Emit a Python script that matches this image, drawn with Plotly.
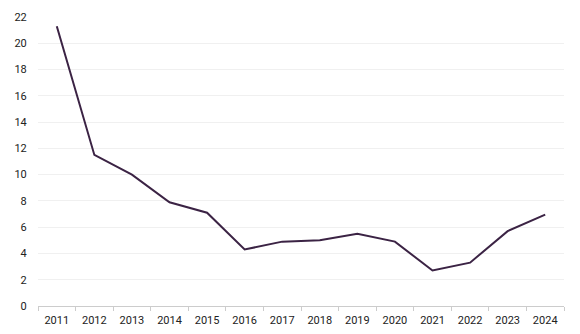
import plotly.graph_objects as go

years = ["2011", "2012", "2013", "2014", "2015", "2016", "2017",
         "2018", "2019", "2020", "2021", "2022", "2023", "2024"]
values = [21.3, 11.5, 10.0, 7.9, 7.1, 4.3, 4.9, 5.0, 5.5, 4.9, 2.7, 3.3, 5.7, 6.95]
y_ticks = [0, 2, 4, 6, 8, 10, 12, 14, 16, 18, 20, 22]

fig = go.Figure(go.Scatter(
    x=years, y=values, mode="lines",
    line=dict(color="#3b2344", width=2),
    hoverinfo="x+y",
))

fig.update_layout(
    width=580, height=334,
    margin=dict(l=38, r=16, t=17, b=28),
    paper_bgcolor="white", plot_bgcolor="white",
    font=dict(family="Roboto, Noto Sans, sans-serif", size=11, color="#222222"),
    showlegend=False,
    xaxis=dict(
        type="category", range=[-0.5, len(years) - 0.5],
        tickson="boundaries", ticks="outside", ticklen=4,
        tickcolor="#cccccc", showline=True, linecolor="#cccccc", linewidth=1,
        showgrid=False, zeroline=False, ticklabelstandoff=4, automargin=False,
    ),
    yaxis=dict(
        range=[0, 22], tickvals=y_ticks, showgrid=True, gridcolor="#f0f0f0",
        gridwidth=1, zeroline=False, showline=False, automargin=False,
        ticks="outside", ticklen=8, tickcolor="rgba(0,0,0,0)",
    ),
)

fig.write_html("out.html")
